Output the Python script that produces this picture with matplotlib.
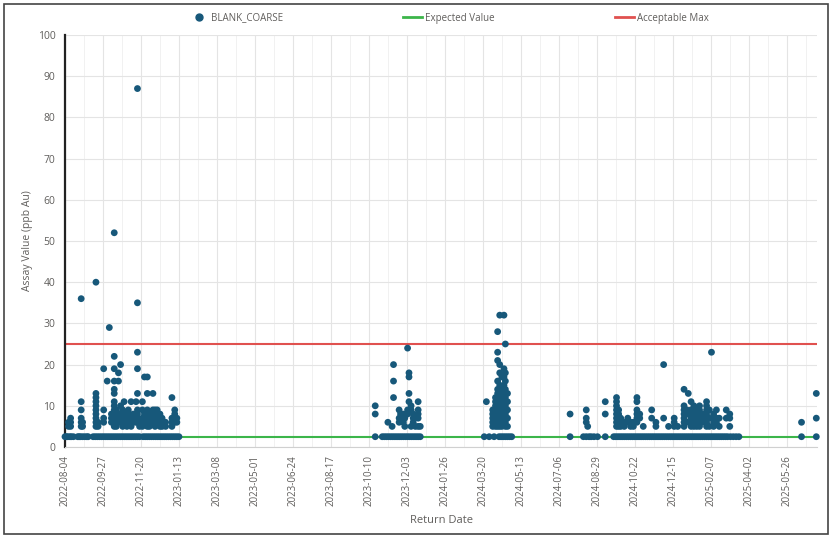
import matplotlib.pyplot as plt
import matplotlib.dates as mdates
import numpy as np
from matplotlib.lines import Line2D
from matplotlib.patches import Rectangle

START = np.datetime64("2022-08-04")
END_DAY = 1069  # last return date, days after START

# Samples reported below detection (plotted at the expected value, 2.5 ppb)
EXPECTED = 2.5
ACCEPTABLE_MAX = 25

below_dl_days = [
    0, 2, 4, 7, 9, 12, 18, 20, 22, 25, 28, 31, 33,
    40, 43, 46, 49, 52, 55, 58, 61, 64, 67, 70, 73, 76, 79, 82, 85, 88,
    91, 94, 97, 100, 103, 106, 111, 114, 117, 120, 123, 126, 129, 132,
    135, 138, 141, 144, 147, 150, 153, 156, 159, 162,
    441, 451, 454, 457, 460, 463, 466, 469, 472, 475, 478, 481, 484, 487,
    490, 493, 496, 499, 502, 505,
    596, 603, 610, 617, 620, 623, 626, 629, 632, 635,
    718, 737, 741, 745, 748, 752, 757, 768,
    780, 783, 786, 789, 792, 795, 798, 801, 804, 807, 810, 813, 816, 819,
    822, 825, 828, 831, 834, 837, 840, 843, 846, 849, 852, 855, 858, 861,
    864, 867, 870, 873, 876, 879, 882, 885, 888, 891, 894, 897, 900, 903,
    906, 909, 912, 915, 918, 921, 924, 927, 930, 933, 936, 939, 942, 946,
    950, 954, 958,
    1047, 1068,
]

# Detected results per return date: (days after START, [assay values ppb Au])
batch1_hits = [
    (5, [6, 5]), (8, [7, 6, 5]),
    (23, [36, 11, 9, 7, 6, 5]), (25, [6, 5]),
    (44, [40, 13, 12, 11, 10, 9, 8, 7, 6, 5]), (47, [6, 5]),
    (55, [19, 9, 7, 6]), (60, [16]), (63, [29]), (66, [8, 7, 6]),
    (70, [52, 22, 19, 16, 14, 13, 11, 10, 9, 8, 7, 6, 5]),
    (73, [9, 7, 6, 5]), (76, [18, 16, 8, 6]), (79, [20, 10, 8, 7, 6]),
    (82, [9, 7, 6, 5]), (84, [11, 8, 6]), (88, [7, 6, 5]), (90, [9, 8, 7]),
    (94, [11, 7, 6, 5]), (97, [8, 6]), (101, [11, 7, 6]),
    (103, [87, 35, 23, 19, 13, 9, 8, 7, 6]), (106, [6, 5]),
    (110, [11, 9, 7, 5]), (113, [17, 8, 6]), (117, [17, 13, 9, 7, 6, 5]),
    (120, [8, 6, 5]), (125, [13, 9, 7, 6]), (128, [9, 8, 6, 5]),
    (131, [9, 7, 6]), (135, [8, 6, 5]), (138, [7, 5]), (143, [6, 5]),
    (152, [12, 7, 6, 5]), (156, [9, 8, 7, 6]), (159, [7, 6]),
]
batch2_hits = [
    (441, [10, 8]), (459, [6]), (465, [5]), (467, [20, 16, 12]),
    (475, [9, 7, 6]), (477, [8, 7]), (481, [8, 6]), (483, [7, 5]),
    (487, [24, 9, 8]), (489, [18, 17, 13, 11]), (492, [10, 9, 5]),
    (495, [8, 7, 6]), (498, [5]), (502, [11, 9, 8, 7, 5]), (505, [5]),
]
batch3_hits = [
    (599, [11]), (608, [9, 8, 7, 6, 5]),
    (612, [12, 11, 10, 9, 8, 7, 6, 5]),
    (615, [28, 23, 21, 16, 14, 13, 12, 11, 10, 9, 8, 7, 6, 5]),
    (618, [32, 20, 18, 15, 13, 12, 11, 10, 9, 8, 7, 6, 5]),
    (621, [17, 14, 12, 11, 10, 9, 8, 7, 6, 5]),
    (624, [32, 19, 17, 15, 13, 11, 10, 9, 8, 7]),
    (626, [25, 18, 16, 14, 12, 10, 9, 8, 6, 5]),
    (629, [13, 11, 9, 7, 5]),
]
batch4_hits = [
    (718, [8]), (741, [9, 7, 6]), (743, [5]), (768, [11, 8]),
    (784, [12, 11, 10, 9, 8, 7, 6, 5]), (787, [9, 8, 7, 6, 5]),
    (790, [7, 6, 5]), (795, [6, 5]), (800, [7, 6]), (804, [6, 5]),
    (808, [6, 5]), (813, [12, 11, 9, 8, 7, 6]), (817, [8, 7]), (822, [5]),
    (834, [9, 7]), (840, [6, 5]), (851, [20, 7]), (858, [5]),
    (866, [7, 6, 5]), (871, [5]), (880, [14, 10, 9, 8, 7, 6, 5]),
    (884, [9, 8, 6]), (886, [13]), (890, [11, 9, 8, 7, 6, 5]),
    (894, [10, 8, 7, 6, 5]), (898, [9, 8, 7, 6, 5]), (902, [10, 9, 8, 7, 5]),
    (906, [8, 7, 6]), (912, [11, 10, 9, 8, 7, 6, 5]), (916, [9, 7, 5]),
    (919, [23]), (922, [8, 7, 6, 5]), (926, [9, 7, 6]), (930, [7, 5]),
    (940, [9, 7]), (945, [8, 7, 5]),
]
batch5_hits = [(1047, [6]), (1068, [13, 7])]

DOT = "#17587a"
GREEN = "#3cb54a"
RED = "#e0514f"
TXT = "#605e5c"

hit_days, hit_vals = [], []
for batch in (batch1_hits, batch2_hits, batch3_hits, batch4_hits, batch5_hits):
    for d, vals in batch:
        hit_days += [d] * len(vals)
        hit_vals += vals

all_days = np.array(below_dl_days + hit_days)
all_vals = np.array([EXPECTED] * len(below_dl_days) + hit_vals, dtype=float)
all_dates = START + all_days.astype("timedelta64[D]")

plt.rcParams["font.family"] = ["Open Sans", "DejaVu Sans"]

fig = plt.figure(figsize=(8.33, 5.38), dpi=100)
ax = fig.add_axes([65 / 833, 1 - 447 / 538, (817 - 65) / 833, (447 - 35) / 538])

x_end = START + np.timedelta64(END_DAY, "D")
ax.plot([START, x_end], [EXPECTED, EXPECTED], color=GREEN, lw=1.5, zorder=2)
ax.plot([START, x_end], [ACCEPTABLE_MAX, ACCEPTABLE_MAX], color=RED, lw=1.5, zorder=2)
ax.scatter(all_dates, all_vals, s=24, color=DOT, edgecolors="none", zorder=3, clip_on=False)

ax.set_xlim(START, x_end)
ax.set_ylim(0, 100)

tick_dates = START + np.arange(0, END_DAY, 54).astype("timedelta64[D]")
minor_dates = START + np.arange(27, END_DAY, 54).astype("timedelta64[D]")
ax.set_xticks(tick_dates)
ax.set_xticks(minor_dates, minor=True)
ax.xaxis.set_major_formatter(mdates.DateFormatter("%Y-%m-%d"))
ax.set_yticks(np.arange(0, 101, 10))
ax.tick_params(axis="x", which="both", length=0, labelsize=7, labelcolor=TXT,
               rotation=90, pad=6)
ax.tick_params(axis="y", length=0, labelsize=7.5, labelcolor=TXT, pad=7)

ax.grid(True, which="major", color="#e4e4e4", lw=0.8)
ax.grid(True, which="minor", axis="x", color="#f1f1f1", lw=0.7)
ax.set_axisbelow(True)
for side in ("top", "right"):
    ax.spines[side].set_visible(False)
ax.spines["bottom"].set_color("#d0d0d0")
ax.spines["left"].set_color("#222222")
ax.spines["left"].set_linewidth(1.6)

ax.set_xlabel("Return Date", fontsize=8, color=TXT, labelpad=6)
ax.set_ylabel("Assay Value (ppb Au)", fontsize=7.5, color=TXT, labelpad=3)

handles = [
    Line2D([], [], ls="none", marker="o", ms=5, color=DOT),
    Line2D([], [], color=GREEN, lw=2),
    Line2D([], [], color=RED, lw=2),
]
fig.legend(handles, ["BLANK_COARSE", "Expected Value", "Acceptable Max"],
           loc="center left", bbox_to_anchor=(184 / 833, 1 - 18 / 538), ncol=3,
           frameon=False, fontsize=7, labelcolor=TXT, handlelength=2,
           handletextpad=0.3, columnspacing=12.3, borderpad=0)

fig.patches.append(Rectangle((4 / 833, 4 / 538), 824 / 833, 530 / 538,
                             transform=fig.transFigure, fill=False,
                             edgecolor="#444444", lw=1.2))

fig.savefig("out.png", dpi=100)
